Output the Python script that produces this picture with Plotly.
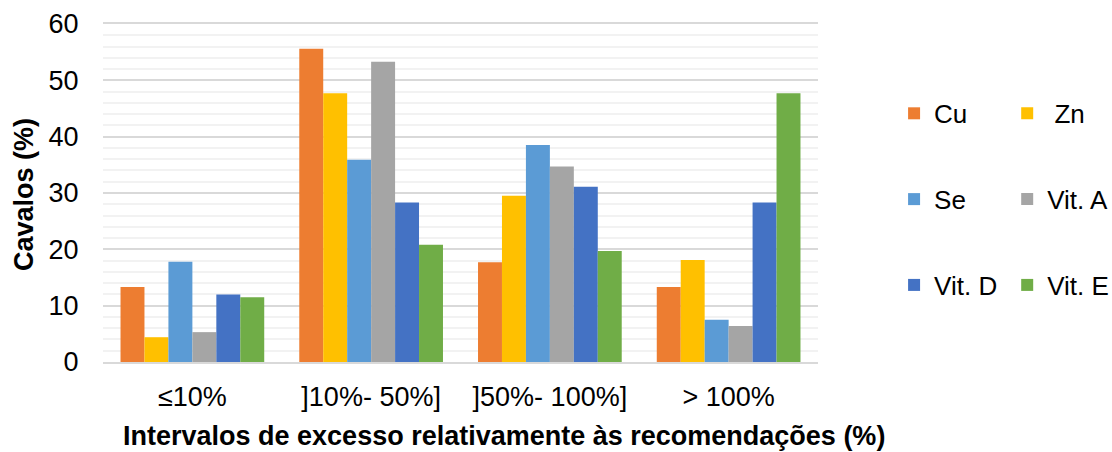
import plotly.graph_objects as go

categories = ["≤10%", "]10%- 50%]", "]50%- 100%]", "> 100%"]
cu = [13.3, 55.6, 17.7, 13.3]
zn = [4.4, 47.7, 29.5, 18.1]
se = [17.8, 35.9, 38.5, 7.5]
vit_a = [5.3, 53.3, 34.7, 6.4]
vit_d = [12.0, 28.3, 31.1, 28.3]
vit_e = [11.5, 20.8, 19.7, 47.7]

series_names = ["Cu", " Zn", "Se", "Vit. A", "Vit. D", "Vit. E"]
series_values = [cu, zn, se, vit_a, vit_d, vit_e]
series_colors = ["#ED7D31", "#FFC000", "#5B9BD5", "#A5A5A5", "#4472C4", "#70AD47"]
legend_ids = ["legend", "legend2", "legend", "legend2", "legend", "legend2"]

FONT = "Liberation Sans, Arial, sans-serif"
FS = 27
LFS = 26

fig = go.Figure()
for name, vals, col, lg in zip(series_names, series_values, series_colors, legend_ids):
    fig.add_trace(go.Bar(
        x=categories, y=vals, name=name,
        marker=dict(color=col, line=dict(width=0)),
        legend=lg, legendgroup=name,
    ))

W, H = 1112, 452
L, R, T, B = 103, 294, 23.5, 89.5

leg_common = dict(
    orientation="v", xanchor="left", yanchor="top",
    font=dict(family=FONT, size=LFS, color="#000"),
    tracegroupgap=49, bgcolor="rgba(0,0,0,0)", borderwidth=0,
)

fig.update_layout(
    width=W, height=H,
    margin=dict(l=L, r=R, t=T, b=B, pad=0, autoexpand=False),
    paper_bgcolor="white", plot_bgcolor="white",
    barmode="group", bargap=0.196, bargroupgap=0,
    font=dict(family=FONT, size=FS, color="#000"),
    legend=dict(x=1.1064, y=0.805, **leg_common),
    legend2=dict(x=1.2646, y=0.805, **leg_common),
    xaxis=dict(
        showgrid=False, showline=True, linecolor="#D9D9D9", linewidth=1.5, mirror=True,
        ticks="outside", ticklen=10, tickcolor="rgba(0,0,0,0)",
        tickfont=dict(family=FONT, size=FS, color="#000"),
    ),
    yaxis=dict(
        range=[0, 60], dtick=10, showgrid=True, gridcolor="#D9D9D9", gridwidth=1.5,
        zeroline=False, showline=False,
        ticks="outside", ticklen=18, tickcolor="rgba(0,0,0,0)",
        tickfont=dict(family=FONT, size=FS, color="#000"),
        minor=dict(dtick=2, showgrid=True, gridcolor="#F2F2F2", gridwidth=1.5),
    ),
    annotations=[
        dict(text="<b>Intervalos de excesso relativamente às recomendações (%)</b>",
             xref="paper", yref="paper", x=(504 - L) / (W - L - R), y=-(437 - (H - B)) / (H - T - B),
             xanchor="center", yanchor="middle", showarrow=False,
             font=dict(family=FONT, size=FS, color="#000")),
        dict(text="<b>Cavalos (%)</b>",
             xref="paper", yref="paper", x=-(103 - 24) / (W - L - R), y=((H - B) - 195) / (H - T - B),
             xanchor="center", yanchor="middle", showarrow=False, textangle=-90,
             font=dict(family=FONT, size=FS, color="#000")),
    ],
)

fig.write_html("out.html")
